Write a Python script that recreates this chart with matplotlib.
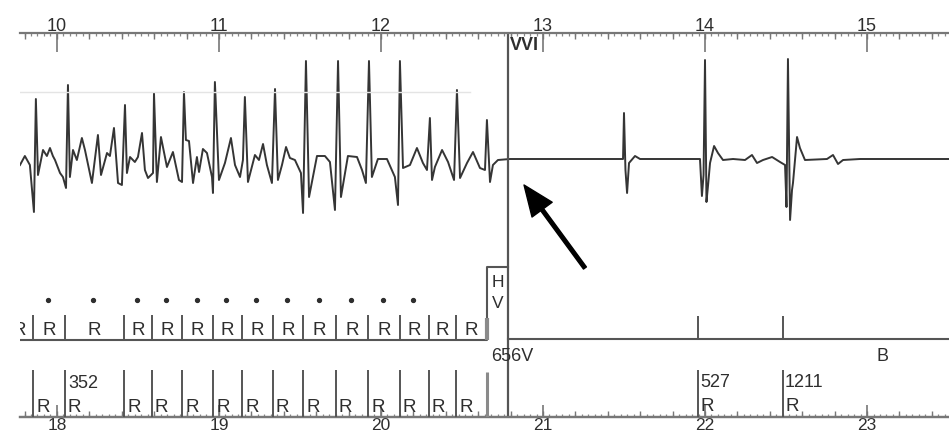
import matplotlib.pyplot as plt
from matplotlib.ticker import MultipleLocator
import numpy as np

plt.rcParams['font.family'] = ['Liberation Sans', 'DejaVu Sans']

# ECG trace: time on the upper scale (s) and deflection (mV)
ecg_t = [9.772, 9.802, 9.833, 9.858, 9.870, 9.883, 9.914, 9.938, 9.957, 9.975,
         9.988, 10.019, 10.037, 10.056, 10.068, 10.080, 10.099, 10.123, 10.154, 10.173,
         10.216, 10.253, 10.272, 10.309, 10.327, 10.352, 10.377, 10.401, 10.420, 10.432,
         10.451, 10.481, 10.500, 10.525, 10.543, 10.562, 10.593, 10.599, 10.617, 10.642,
         10.679, 10.716, 10.753, 10.772, 10.784, 10.796, 10.815, 10.840, 10.864, 10.877,
         10.901, 10.926, 10.957, 10.963, 10.975, 11.000, 11.037, 11.074, 11.099, 11.130,
         11.148, 11.160, 11.179, 11.222, 11.247, 11.272, 11.296, 11.327, 11.346, 11.364,
         11.389, 11.414, 11.438, 11.469, 11.506, 11.519, 11.537, 11.556, 11.605, 11.654,
         11.685, 11.716, 11.735, 11.753, 11.796, 11.852, 11.883, 11.907, 11.926, 11.944,
         11.981, 12.037, 12.086, 12.105, 12.117, 12.136, 12.179, 12.222, 12.259, 12.284,
         12.302, 12.315, 12.333, 12.377, 12.414, 12.451, 12.469, 12.488, 12.531, 12.568,
         12.611, 12.642, 12.654, 12.673, 12.691, 12.722, 12.796,
         13.494, 13.500, 13.509, 13.519, 13.531, 13.568, 13.599,
         13.969, 13.981, 13.991, 14.000, 14.009, 14.019, 14.031, 14.056, 14.080, 14.111,
         14.173, 14.247, 14.290, 14.321, 14.358, 14.414, 14.463, 14.494, 14.503, 14.512,
         14.525, 14.537, 14.543, 14.568, 14.586, 14.617, 14.753, 14.790, 14.821, 14.852,
         14.957, 15.550]
ecg_mv = [-0.12, 0.06, -0.12, -1.06, 1.20, -0.32, 0.18, 0.06, 0.22, 0.06,
          -0.02, -0.28, -0.36, -0.58, 1.48, -0.36, 0.18, -0.02, 0.42, 0.18,
          -0.48, 0.48, -0.32, 0.12, 0.06, 0.62, -0.48, -0.52, 1.08, -0.28,
          0.04, -0.06, 0.04, 0.52, -0.22, -0.38, -0.28, 1.32, -0.46, 0.44,
          -0.16, 0.14, -0.42, -0.46, 1.34, 0.38, 0.36, -0.48, 0.04, -0.26,
          0.20, 0.12, -0.36, -0.68, 1.54, -0.42, -0.08, 0.42, -0.12, -0.36,
          -0.02, 1.24, -0.46, 0.08, -0.02, 0.30, -0.12, -0.48, 1.40, -0.42,
          -0.12, 0.24, 0.02, -0.02, -0.28, -1.08, 1.96, -0.76, 0.06, 0.06,
          -0.06, -1.02, 1.96, -0.76, 0.06, 0.04, -0.22, -0.48, 1.96, -0.36,
          0.00, 0.00, -0.36, -0.92, 1.96, -0.18, -0.12, 0.22, -0.08, -0.22,
          0.82, -0.42, -0.16, 0.18, -0.06, -0.42, 1.38, -0.38, -0.08, 0.14,
          -0.18, -0.22, 0.78, -0.46, -0.12, -0.02, 0.00,
          0.00, 0.92, -0.22, -0.68, -0.08, 0.06, 0.00,
          0.00, -0.74, -0.32, 1.98, -0.86, -0.52, -0.08, 0.26, 0.12, -0.02,
          0.00, -0.02, 0.08, -0.08, -0.02, 0.04, -0.06, -0.12, -0.96, 2.00,
          -1.22, -0.62, -0.48, 0.44, 0.22, -0.02, 0.00, 0.08, -0.10, -0.02,
          0.00, 0.00]

# marker channel: sensed events before the switch (s), dot = interval in VF zone
sense_t = [9.679, 9.852, 10.049, 10.414, 10.586, 10.772, 10.963, 11.142, 11.333,
           11.519, 11.722, 11.920, 12.117, 12.296, 12.463, 12.654]
dotted = [0, 1, 1, 1, 1, 1, 1, 1, 1, 1, 1, 1, 1, 0, 0]
interval_note = (10.049, "352")
switch_t = 12.784
after_t = [13.957, 14.481]
after_lab = ["527", "1211"]
top_ticks = [10, 11, 12, 13, 14, 15]
bottom_ticks = [18, 19, 20, 21, 22, 23]
bottom_shift = 8

t_left, t_right = 9.772, 15.506
ink = '#2e2e2e'
line_c = '#555555'

fig = plt.figure(figsize=(9.49, 4.36), dpi=100)
pos = [20 / 949, 19 / 436, 929 / 949, 384 / 436]

# --- ECG axes, its top and bottom spines are the two time rulers
ax = fig.add_axes(pos)
ax.plot(ecg_t, ecg_mv, color='#353535', lw=1.4)
ax.set_xlim(t_left, t_right)
ax.set_ylim(-5.16, 2.52)
ax.spines['left'].set_visible(False)
ax.spines['right'].set_visible(False)
for s in ['top', 'bottom']:
    ax.spines[s].set_color('#777777')
    ax.spines[s].set_linewidth(1.6)
ax.set_yticks([])
ax.xaxis.set_ticks_position('top')
ax.set_xticks(top_ticks)
ax.xaxis.set_minor_locator(MultipleLocator(0.04))
ax.tick_params(axis='x', which='major', direction='in', length=13.5, width=1.2,
               color='#777777', labelcolor=ink, labelsize=13, pad=-1.5)
ax.tick_params(axis='x', which='minor', direction='in', length=2.4, width=0.9,
               color='#888888')

sec = ax.secondary_xaxis('bottom', functions=(lambda x: x + bottom_shift,
                                              lambda x: x - bottom_shift))
sec.set_xticks(bottom_ticks)
sec.xaxis.set_minor_locator(MultipleLocator(0.04))
sec.spines['bottom'].set_color('#777777')
sec.spines['bottom'].set_linewidth(1.6)
sec.tick_params(which='major', direction='in', length=9, width=1.2,
                color='#777777', labelcolor=ink, labelsize=12.5, pad=1)
sec.tick_params(which='minor', direction='in', length=2.4, width=0.9,
                color='#888888')

# 0.2 s ticks on both rulers
mid = np.arange(9.8, 15.6, 0.2)
tr = ax.get_xaxis_transform()
ax.vlines(mid, 1, 0.985, transform=tr, color='#777777', lw=1.0)
ax.vlines(mid, 0, 0.015, transform=tr, color='#777777', lw=1.0)
ax.axvline(switch_t, color=line_c, lw=1.6)

# --- overlay for the marker channel and notes (y in strip pixels, top down)
m = fig.add_axes(pos)
m.set_xlim(t_left, t_right)
m.set_ylim(417, 33)
m.axis('off')
m.patch.set_alpha(0)

m.plot([t_left, 12.549], [92, 92], color='#e4e4e4', lw=1.0)

# upper marker row
m.plot([t_left, sense_t[-1], sense_t[-1], switch_t], [340, 340, 267, 267],
       color=line_c, lw=1.5)
m.plot([switch_t, t_right], [339, 339], color=line_c, lw=1.5)
m.vlines(sense_t[:-1], 315, 340, color=line_c, lw=1.4)
m.vlines(sense_t[-1], 318, 340, color='#8a8a8a', lw=3)
for i in range(len(sense_t) - 1):
    c = (sense_t[i] + sense_t[i + 1]) / 2
    m.text(c, 335, 'R', ha='center', va='baseline', fontsize=13.5, color=ink,
           clip_on=True)
    if dotted[i]:
        m.plot(c - 0.006, 300, 'o', ms=2.8, color=ink)
hv_c = (sense_t[-1] + switch_t) / 2
m.text(hv_c, 287, 'H', ha='center', va='baseline', fontsize=12.5, color=ink)
m.text(hv_c, 308, 'V', ha='center', va='baseline', fontsize=12.5, color=ink)
m.vlines(after_t, 316, 339, color=line_c, lw=1.4)
m.text(12.679, 361, '656V', ha='left', va='baseline', fontsize=13, color=ink)
m.text(15.093, 361, 'B', ha='center', va='baseline', fontsize=13, color=ink)

# lower marker row
m.vlines(sense_t[:-1], 370, 417, color=line_c, lw=1.4)
m.vlines(sense_t[-1], 372, 417, color='#8a8a8a', lw=2.2)
for t in sense_t[:-1]:
    m.annotate('R', (t, 412), xytext=(2.2, 0), textcoords='offset points',
               ha='left', va='baseline', fontsize=13.5, color=ink, clip_on=True)
m.annotate(interval_note[1], (interval_note[0], 388), xytext=(2.2, 0),
           textcoords='offset points', ha='left', va='baseline', fontsize=13,
           color=ink)
m.vlines(after_t, 370, 417, color=line_c, lw=1.4)
for t, lab in zip(after_t, after_lab):
    m.annotate(lab, (t, 387), xytext=(1.5, 0), textcoords='offset points',
               ha='left', va='baseline', fontsize=13, color=ink)
    m.annotate('R', (t, 411), xytext=(1.5, 0), textcoords='offset points',
               ha='left', va='baseline', fontsize=13.5, color=ink)

m.annotate('VVI', (switch_t, 50), xytext=(1.5, 0), textcoords='offset points',
           ha='left', va='baseline', fontsize=13, fontweight='bold', color=ink)

# arrow pointing at the flat line after the switch
m.annotate('', xy=(12.883, 185), xytext=(13.259, 268),
           arrowprops=dict(facecolor='black', edgecolor='black', width=2.6,
                           headwidth=18, headlength=22, shrink=0))

fig.savefig('out.png', dpi=100)
